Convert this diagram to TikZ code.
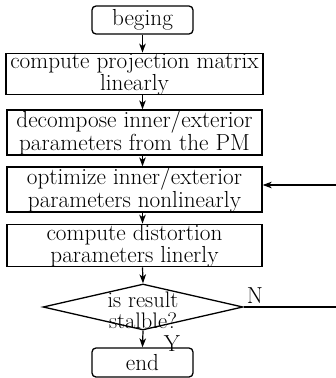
\documentclass[tikz,border=0pt]{standalone}
\usetikzlibrary{shapes.geometric,arrows.meta}
\begin{document}
\begin{tikzpicture}[x=1pt,y=-1pt,
  boxstyle/.style={draw,line width=1.3pt,inner sep=0pt,align=center,
    font=\fontsize{23.2}{17}\selectfont},
  termstyle/.style={boxstyle,rounded corners=4pt},
  arr/.style={line width=1.2pt,-{Stealth[length=9pt,width=6.5pt,inset=2.5pt]}},
  lab/.style={font=\fontsize{23.2}{23.2}\selectfont,inner sep=0pt}]
\useasboundingbox (0,0) rectangle (336,378);
\clip (0,0) rectangle (336,378);
\node[termstyle,minimum width=101pt,minimum height=28pt] (b1) at (142.5,20) {beging};
\node[boxstyle,minimum width=257pt,minimum height=38pt] (b2) at (134.5,74) {compute projection matrix\\linearly};
\node[boxstyle,minimum width=255pt,minimum height=41pt] (b3) at (134.5,132.5) {decompose inner/exterior\\parameters from the PM};
\node[boxstyle,minimum width=255pt,minimum height=37pt] (b4) at (134.5,189.5) {optimize inner/exterior\\parameters nonlinearly};
\node[boxstyle,minimum width=255pt,minimum height=37pt] (b5) at (134.5,245.5) {compute distortion\\parameters linerly};
\node[diamond,draw,line width=1.3pt,minimum width=200pt,minimum height=46pt,inner sep=0pt] (d) at (143,307) {};
\node[lab,font=\fontsize{22.5}{22.5}\selectfont] (dt1) at (143,300) {is result};
\node[lab,font=\fontsize{22.5}{22.5}\selectfont] (dt2) at (143,321) {stalble?};
\node[termstyle,minimum width=101pt,minimum height=29pt] (e) at (142.5,362.5) {end};
\node[lab] (n) at (255,296) {N};
\node[lab] (y) at (172,344) {Y};
\coordinate (r1) at (341,307);
\coordinate (r2) at (341,185);
\draw[arr] (b1.south) -- (b1.south |- b2.north);
\draw[arr] (b2.south -| b1) -- (b3.north -| b1);
\draw[arr] (b3.south -| b1) -- (b4.north -| b1);
\draw[arr] (b4.south -| b1) -- (b5.north -| b1);
\draw[arr] (b5.south -| b1) -- (d.north);
\draw[arr] (d.south) -- (e.north);
\draw[arr] (d.east) -- (r1) -- (r2) -- (r2 -| b4.east);
\end{tikzpicture}
\end{document}
